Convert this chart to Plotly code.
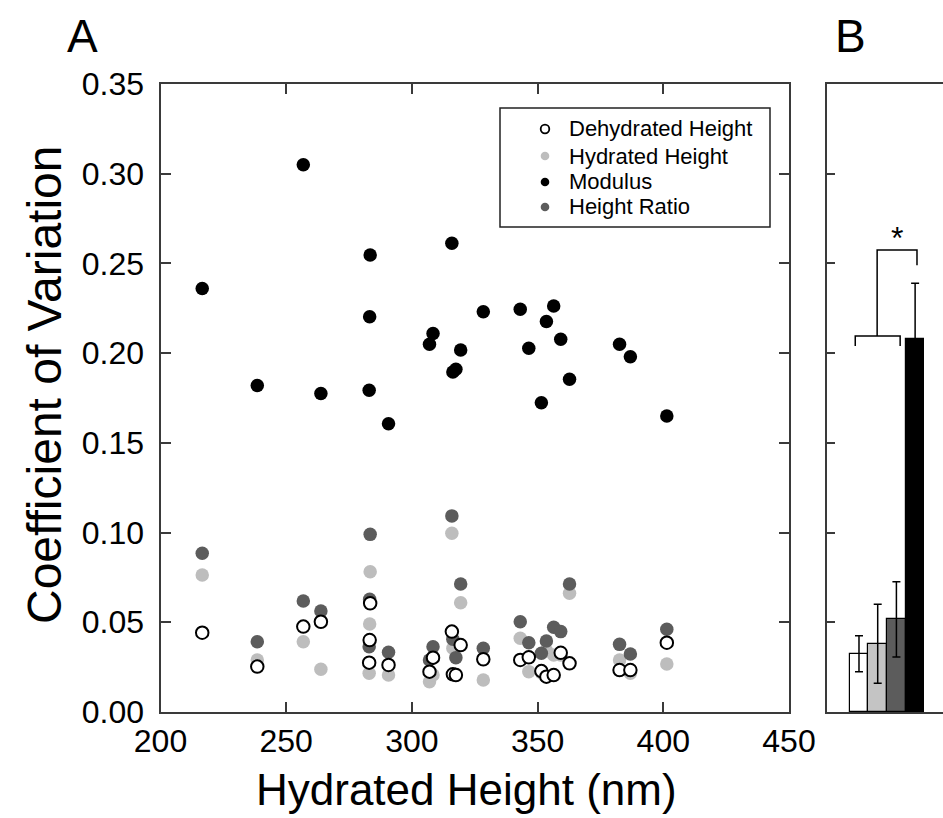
import plotly.graph_objects as go

# ---------------- data: panel A ----------------
hydrated_height_nm = [216.6, 238.5, 256.8, 263.8, 283.4, 283.2, 283.0, 290.7, 307.0, 308.4,
                      315.9, 316.3, 317.5, 319.4, 328.4, 343.1, 346.5, 351.5, 353.5, 356.4,
                      359.2, 362.7, 382.6, 386.9, 401.4]
cv_dehydrated = [0.0442, 0.0253, 0.0476, 0.0503, 0.0606, 0.0401, 0.0275, 0.0262, 0.0225, 0.0303,
                 0.0448, 0.0210, 0.0206, 0.0373, 0.0294, 0.0290, 0.0305, 0.0228, 0.0197, 0.0206,
                 0.0330, 0.0271, 0.0234, 0.0234, 0.0386]
cv_hydrated = [0.0764, 0.0290, 0.0392, 0.0238, 0.0782, 0.0490, 0.0216, 0.0206, 0.0169, 0.0206,
               0.0996, 0.0355, 0.0210, 0.0609, 0.0178, 0.0411, 0.0225, 0.0219, 0.0342, 0.0318,
               0.0318, 0.0662, 0.0290, 0.0216, 0.0268]
cv_modulus = [0.236, 0.182, 0.305, 0.1775, 0.2547, 0.2203, 0.1793, 0.1607, 0.205, 0.211,
              0.2613, 0.1895, 0.191, 0.2018, 0.2231, 0.2245, 0.2027, 0.1724, 0.2176, 0.2263,
              0.2077, 0.1855, 0.205, 0.198, 0.165]
cv_height_ratio = [0.0885, 0.0392, 0.0619, 0.0563, 0.0990, 0.0628, 0.0364, 0.0333, 0.0290, 0.0364,
                   0.1093, 0.0405, 0.0303, 0.0713, 0.0355, 0.0503, 0.0386, 0.0327, 0.0396, 0.0472,
                   0.0448, 0.0713, 0.0377, 0.0323, 0.0461]

# ---------------- data: panel B ----------------
bar_names = ["Dehydrated Height", "Hydrated Height", "Height Ratio", "Modulus"]
bar_pos = [0, 1, 2, 3]
bar_mean = [0.0325, 0.038, 0.0516, 0.208]
bar_err = [0.010, 0.022, 0.021, 0.031]

# ---------------- tick labels ----------------
x_ticks = [200, 250, 300, 350, 400, 450]
y_ticks = [0.00, 0.05, 0.10, 0.15, 0.20, 0.25, 0.30, 0.35]

# legend entries (order as shown in the reference legend)
legend_names = ["Dehydrated Height", "Hydrated Height", "Modulus", "Height Ratio"]

FONT = "Arial, Liberation Sans, sans-serif"
AX = "#3a3a3a"
LIGHT = "#bdbdbd"
DARK = "#5c5c5c"
series_style = {
    "Dehydrated Height": dict(fill="white", line="black", lw=2),
    "Hydrated Height": dict(fill=LIGHT, line=LIGHT, lw=0),
    "Modulus": dict(fill="black", line="black", lw=0),
    "Height Ratio": dict(fill=DARK, line=DARK, lw=0),
}

fig = go.Figure()

# draw order: hydrated, height ratio, modulus, dehydrated (on top)
for name, vals in [("Hydrated Height", cv_hydrated), ("Height Ratio", cv_height_ratio),
                   ("Modulus", cv_modulus), ("Dehydrated Height", cv_dehydrated)]:
    st = series_style[name]
    fig.add_trace(go.Scatter(
        x=hydrated_height_nm, y=vals, mode="markers", name=name, showlegend=False,
        marker=dict(size=12.5 if st["lw"] else 13.5, color=st["fill"],
                    line=dict(width=st["lw"], color=st["line"])),
        xaxis="x", yaxis="y"))

# panel B bars
fig.add_trace(go.Bar(x=bar_pos, y=bar_mean, width=1.0, showlegend=False,
                     marker=dict(color=["white", "#c4c4c4", DARK, "black"],
                                 line=dict(color="black", width=1.2)),
                     error_y=dict(type="data", array=bar_err, visible=True, color="black",
                                  thickness=1.5, width=4),
                     text=bar_names, hoverinfo="text+y", textposition="none",
                     xaxis="x2", yaxis="y2"))

axis_common = dict(showgrid=False, zeroline=False, showline=True, linecolor=AX, linewidth=2,
                   ticks="inside", tickcolor=AX, tickwidth=1.5, automargin=False)

fig.update_layout(
    width=943, height=818, template="none",
    margin=dict(l=0, r=0, t=0, b=0),
    paper_bgcolor="white", plot_bgcolor="white",
    font=dict(family=FONT, color="black"),
    xaxis=dict(domain=[160.5 / 943, 789 / 943], range=[200, 450], tickvals=x_ticks,
               ticktext=[str(v) for v in x_ticks], ticklen=10, mirror="ticks",
               tickfont=dict(size=32), ticklabelstandoff=0, anchor="y", **axis_common),
    yaxis=dict(domain=[1 - 712 / 818, 1 - 84 / 818], range=[0, 0.35], tickvals=y_ticks,
               ticktext=["%.2f" % v for v in y_ticks], ticklen=10, mirror="ticks",
               tickfont=dict(size=32), ticklabelstandoff=8, anchor="x", **axis_common),
    xaxis2=dict(domain=[827 / 943, 1.0], range=[-1.71, 4.49], showticklabels=False,
                showgrid=False, zeroline=False, showline=True, linecolor=AX, linewidth=2,
                mirror=True, ticks="", anchor="y2", automargin=False),
    yaxis2=dict(domain=[1 - 712 / 818, 1 - 84 / 818], range=[0, 0.35], tickvals=y_ticks,
                showticklabels=False, ticklen=8, mirror=False, anchor="x2", **axis_common),
    showlegend=False,
    bargap=0,
)

# ---- legend box (drawn in paper space) ----
LX0, LX1, LY0, LY1 = 500, 770, 108, 227
def px(x):
    return x / 943
def py(y):
    return 1 - y / 818

fig.add_shape(type="rect", xref="paper", yref="paper", x0=px(LX0), x1=px(LX1),
              y0=py(LY1), y1=py(LY0), line=dict(color="#222", width=1.5), fillcolor="white",
              layer="above")
row_y = [129, 156, 182, 207]
r = 4.3
for name, yy in zip(legend_names, row_y):
    st = series_style[name]
    fig.add_shape(type="circle", xref="paper", yref="paper",
                  x0=px(545 - r), x1=px(545 + r), y0=py(yy + r), y1=py(yy - r),
                  fillcolor=st["fill"], line=dict(color=st["line"], width=1.8 if st["lw"] else 0),
                  layer="above")
    fig.add_annotation(x=px(567), y=py(yy), xref="paper", yref="paper", text=name,
                       showarrow=False, xanchor="left", yanchor="middle",
                       font=dict(size=22, family=FONT, color="black"))

# significance brackets in panel B
fig.add_shape(type="path", xref="x2", yref="y2",
              path="M -0.2,0.204 L -0.2,0.2096 L 2.2,0.2096 L 2.2,0.204",
              line=dict(color="black", width=1.5))
fig.add_shape(type="path", xref="x2", yref="y2",
              path="M 0.97,0.2096 L 0.97,0.2575 L 3.1,0.2575 L 3.1,0.249",
              line=dict(color="black", width=1.5))
fig.add_annotation(x=2.03, y=0.264, xref="x2", yref="y2", text="*", showarrow=False,
                   yanchor="middle", font=dict(size=32, family=FONT, color="black"))

# titles and panel labels
fig.add_annotation(x=px(466), y=py(789), xref="paper", yref="paper",
                   text="Hydrated Height (nm)", showarrow=False, xanchor="center", yanchor="middle",
                   font=dict(size=44, family=FONT, color="black"))
fig.add_annotation(x=px(44), y=py(385), xref="paper", yref="paper",
                   text="Coefficient of Variation", showarrow=False, textangle=-90,
                   xanchor="center", yanchor="middle",
                   font=dict(size=48, family=FONT, color="black"))
fig.add_annotation(x=px(82), y=py(36), xref="paper", yref="paper", xanchor="center", yanchor="middle",
                   text="A", showarrow=False, font=dict(size=46, family=FONT, color="black"))
fig.add_annotation(x=px(850), y=py(36), xref="paper", yref="paper", xanchor="center", yanchor="middle",
                   text="B", showarrow=False, font=dict(size=46, family=FONT, color="black"))

fig.write_html("out.html")
